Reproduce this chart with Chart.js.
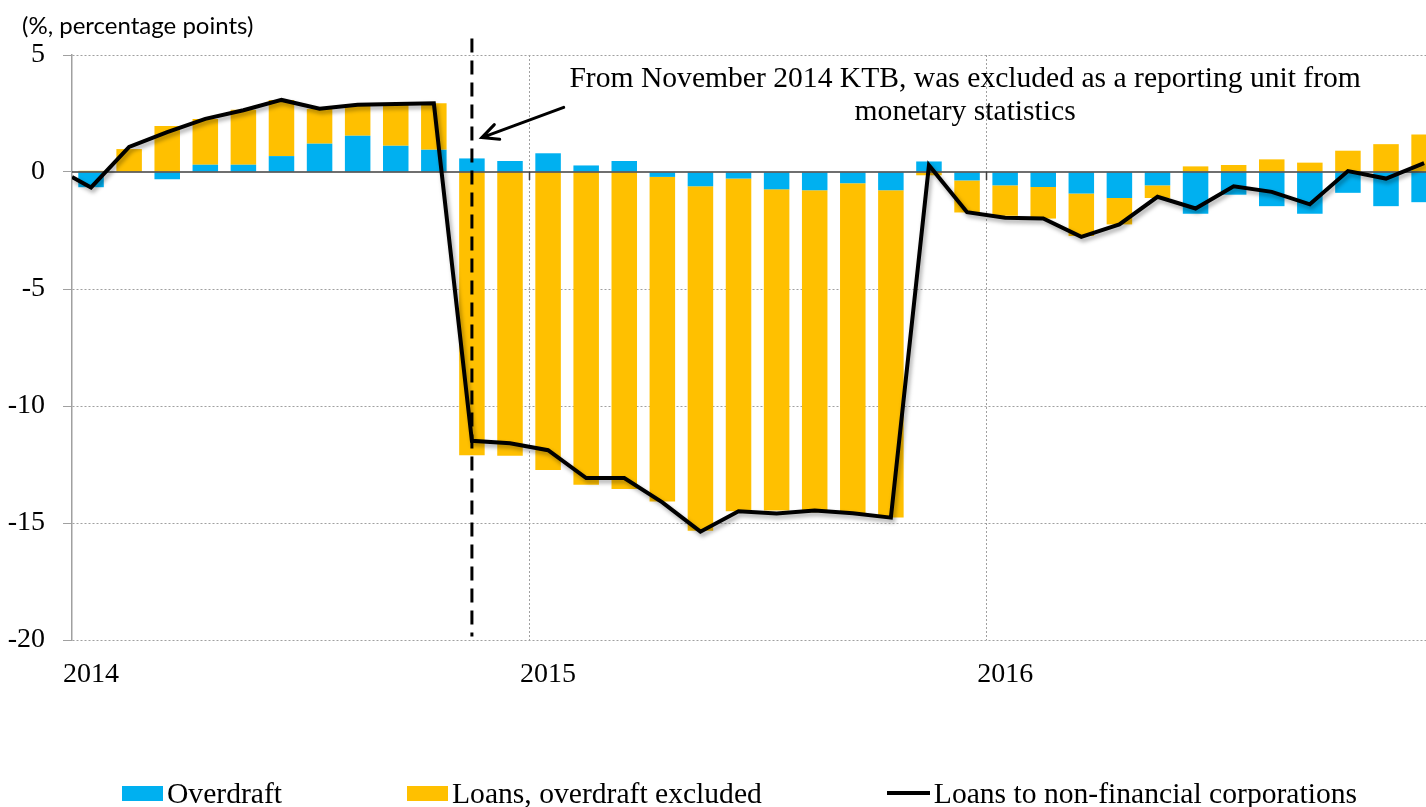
<!DOCTYPE html>
<html>
<head>
<meta charset="utf-8">
<script src="https://cdn.jsdelivr.net/npm/chart.js@4.4.1/dist/chart.umd.min.js"></script>
<style>
  html, body { margin: 0; padding: 0; background: #fff; overflow: hidden; }
  #wrap { position: relative; width: 1426px; height: 807px; }
  #legend {
    position: absolute; left: 122px; top: 778px;
    display: flex; gap: 125px;
    font-family: "Liberation Serif", "Times New Roman", serif;
    font-size: 29.6px; line-height: 30px; white-space: nowrap; color: #000;
  }
  .item { display: flex; align-items: center; }
  .swatch { width: 41px; height: 15px; margin-right: 4px; }
  .swatch.line { width: 43px; height: 4px; }
</style>
</head>
<body>
<div id="wrap">
  <canvas id="chart" width="1426" height="807"></canvas>
  <div id="legend"></div>
</div>
<script>
// Monthly data, Jan 2014 - Dec 2016 (%, percentage points)
const years = ["2014", "2015", "2016"];
const months = [];
years.forEach(y => {
  for (let m = 1; m <= 12; m++) months.push(y + "-" + String(m).padStart(2, "0"));
});

const overdraft = [
  -0.65, 0.00, -0.31, 0.31, 0.31, 0.68, 1.21, 1.55, 1.12, 0.95, 0.58, 0.47,
  0.80, 0.28, 0.47, -0.21, -0.61, -0.28, -0.74, -0.78, -0.48, -0.78, 0.45, -0.36,
  -0.57, -0.64, -0.92, -1.11, -0.57, -1.78, -0.97, -1.46, -1.78, -0.89, -1.46, -1.29
];

const loansExclOverdraft = [
  0.05, 0.98, 1.97, 1.96, 2.35, 2.40, 1.49, 1.32, 1.79, 1.99, -12.10, -12.13,
  -12.73, -13.37, -13.55, -13.87, -14.72, -14.22, -13.73, -13.76, -14.10, -13.99, -0.14, -1.37,
  -1.30, -1.35, -1.82, -1.13, -0.54, 0.24, 0.30, 0.54, 0.40, 0.91, 1.19, 1.60
];

const corpLoans = [
  -0.66, 1.07, 1.70, 2.27, 2.64, 3.08, 2.70, 2.87, 2.91, 2.94, -11.49, -11.59,
  -11.89, -13.08, -13.08, -14.12, -15.37, -14.50, -14.59, -14.47, -14.58, -14.77, 0.29, -1.72,
  -1.95, -1.99, -2.77, -2.24, -1.06, -1.56, -0.61, -0.85, -1.38, 0.04, -0.28, 0.38
];
// the line starts at the left edge of the axis, half a month before the first bar
const corpLoansStart = -0.21;

const yTicks = [5, 0, -5, -10, -15, -20];
const breakMonth = "2014-11";
const noteLines = [
  "From November 2014 KTB, was excluded as a reporting unit from",
  "monetary statistics"
];
const unitLabel = "(%, percentage points)";

const serif = '"Liberation Serif", "Times New Roman", serif';
const yearStarts = months.map((m, i) => m.endsWith("-01") ? i : -1).filter(i => i >= 0);

const toPoints = arr => arr.map((v, i) => ({ x: i, y: v }));

// zero axis line (drawn over the bars, under the line) + shadow on the line
const zeroAxis = {
  id: "zeroAxis",
  beforeDatasetDraw(chart, args) {
    if (args.meta.type !== "line") return;
    const { ctx, chartArea, scales } = chart;
    const y0 = scales.y.getPixelForValue(0);
    ctx.save();
    ctx.strokeStyle = "#404040";
    ctx.lineWidth = 1.5;
    ctx.beginPath();
    ctx.moveTo(chartArea.left, y0);
    ctx.lineTo(chartArea.right, y0);
    scales.xGrid.ticks.forEach(t => {
      const px = Math.round(scales.xGrid.getPixelForValue(t.value)) + 0.5;
      ctx.moveTo(px, y0);
      ctx.lineTo(px, y0 + 8);
    });
    ctx.stroke();
    ctx.restore();

    ctx.save();
    ctx.shadowColor = "rgba(0,0,0,0.35)";
    ctx.shadowBlur = 4;
    ctx.shadowOffsetX = 2;
    ctx.shadowOffsetY = 3;
  },
  afterDatasetDraw(chart, args) {
    if (args.meta.type === "line") chart.ctx.restore();
  }
};

// dashed break marker, arrow, note text and unit label
const annotations = {
  id: "annotations",
  afterDraw(chart) {
    const { ctx, scales: { x, y } } = chart;
    const bx = x.getPixelForValue(months.indexOf(breakMonth));

    ctx.save();
    ctx.strokeStyle = "#000";
    ctx.lineWidth = 3;
    ctx.setLineDash([14, 8]);
    ctx.beginPath();
    ctx.moveTo(bx, y.getPixelForValue(5.7));
    ctx.lineTo(bx, y.getPixelForValue(-19.85));
    ctx.stroke();
    ctx.restore();

    // arrow from the note to the marker
    const tx = x.getPixelForValue(12.41), ty = y.getPixelForValue(2.76);
    const hx = x.getPixelForValue(10.26), hy = y.getPixelForValue(1.47);
    const ang = Math.atan2(hy - ty, hx - tx);
    ctx.save();
    ctx.strokeStyle = "#000";
    ctx.lineWidth = 3;
    ctx.lineCap = "round";
    ctx.beginPath();
    ctx.moveTo(tx, ty);
    ctx.lineTo(hx, hy);
    ctx.moveTo(hx - 18 * Math.cos(ang - 0.45), hy - 18 * Math.sin(ang - 0.45));
    ctx.lineTo(hx, hy);
    ctx.lineTo(hx - 18 * Math.cos(ang + 0.45), hy - 18 * Math.sin(ang + 0.45));
    ctx.stroke();
    ctx.restore();

    ctx.save();
    ctx.fillStyle = "#000";
    ctx.font = "29.6px " + serif;
    ctx.textAlign = "center";
    ctx.textBaseline = "alphabetic";
    const nx = x.getPixelForValue(22.95);
    const ny = y.getPixelForValue(3.65);
    noteLines.forEach((line, i) => ctx.fillText(line, nx, ny + i * 33));

    ctx.font = '24px Lato, "Noto Sans", sans-serif';
    ctx.textAlign = "left";
    ctx.textBaseline = "middle";
    ctx.fillText(unitLabel, 22, 26);
    ctx.restore();
  }
};

const chart = new Chart(document.getElementById("chart"), {
  data: {
    datasets: [
      {
        type: "bar",
        label: "Overdraft",
        data: toPoints(overdraft),
        backgroundColor: "#00B0F0",
        stack: "bars",
        order: 1,
        barPercentage: 0.67,
        categoryPercentage: 1
      },
      {
        type: "bar",
        label: "Loans, overdraft excluded",
        data: toPoints(loansExclOverdraft),
        backgroundColor: "#FFC000",
        stack: "bars",
        order: 1,
        barPercentage: 0.67,
        categoryPercentage: 1
      },
      {
        type: "line",
        label: "Loans to non-financial corporations",
        data: [{ x: -0.5, y: corpLoansStart }].concat(toPoints(corpLoans)),
        borderColor: "#000",
        backgroundColor: "#000",
        borderWidth: 4,
        pointRadius: 0,
        tension: 0,
        stack: "line",
        order: 0
      }
    ]
  },
  options: {
    responsive: false,
    animation: false,
    layout: { padding: { top: 55, bottom: 117, left: 0, right: 0 } },
    plugins: {
      legend: { display: false },
      tooltip: { enabled: false }
    },
    scales: {
      x: {
        type: "linear",
        position: "bottom",
        bounds: "data",
        offset: false,
        min: -0.5,
        max: 35.05,
        stacked: true,
        grid: { display: false, drawTicks: false, offset: false },
        border: { display: false },
        afterBuildTicks: s => { s.ticks = yearStarts.map(i => ({ value: i })); },
        ticks: {
          autoSkip: false,
          maxRotation: 0,
          padding: 18,
          color: "#000",
          font: { family: serif, size: 28 },
          callback: v => months[v].slice(0, 4)
        },
        afterFit: s => { s.height = 50; }
      },
      xGrid: {
        type: "linear",
        position: "bottom",
        bounds: "data",
        offset: false,
        min: -0.5,
        max: 35.05,
        afterBuildTicks: s => { s.ticks = yearStarts.slice(1).map(i => ({ value: i - 0.5 })); },
        ticks: { display: false },
        grid: { color: "#a0a0a0", lineWidth: 1, drawTicks: false },
        border: { display: false, dash: [2, 2] },
        afterFit: s => { s.height = 0; }
      },
      y: {
        min: -20,
        max: 5,
        stacked: true,
        afterBuildTicks: s => { s.ticks = yTicks.map(v => ({ value: v })); },
        ticks: {
          padding: 18,
          color: "#000",
          font: { family: serif, size: 28 }
        },
        grid: {
          color: c => (c.tick && c.tick.value === 0) ? "rgba(0,0,0,0)" : "#a0a0a0",
          tickColor: "#a0a0a0",
          tickLength: 9,
          lineWidth: 1
        },
        border: { color: "#a0a0a0", width: 1.5, dash: [2, 2] },
        afterFit: s => { s.width = 72; }
      }
    }
  },
  plugins: [zeroAxis, annotations]
});

// legend below the chart
const legend = document.getElementById("legend");
chart.data.datasets.forEach(ds => {
  const item = document.createElement("div");
  item.className = "item";
  const sw = document.createElement("span");
  sw.className = "swatch" + (ds.type === "line" ? " line" : "");
  sw.style.background = ds.type === "line" ? ds.borderColor : ds.backgroundColor;
  const txt = document.createElement("span");
  txt.textContent = ds.label;
  item.appendChild(sw);
  item.appendChild(txt);
  legend.appendChild(item);
});
</script>
</body>
</html>
